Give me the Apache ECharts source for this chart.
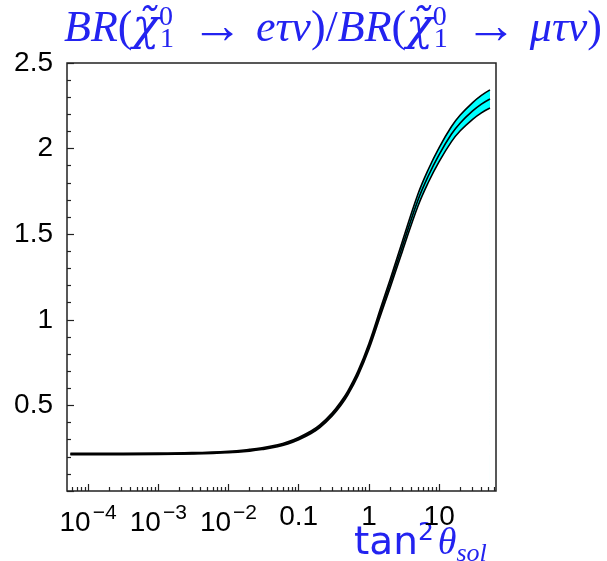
<!DOCTYPE html>
<html>
<head>
<meta charset="utf-8">
<script src="https://cdn.jsdelivr.net/npm/echarts@6/dist/echarts.min.js"></script>
<style>
  html, body { margin: 0; padding: 0; background: #fff; }
  #chart { width: 607px; height: 561px; }
</style>
</head>
<body>
<div id="chart"></div>
<script>
// tan^2(theta_sol) values where the curves were read
var tanSq = [5.6e-5, 1e-4, 1e-3, 3e-3, 0.01, 0.02, 0.03, 0.05, 0.07, 0.1, 0.15, 0.2, 0.3, 0.4, 0.5, 0.7,
             1, 1.5, 2, 3, 5, 7, 10, 15, 20, 30, 40, 53];
// ratio BR(e tau nu)/BR(mu tau nu): central, lower and upper edge of the band
var ratioMid  = [0.216, 0.216, 0.217, 0.220, 0.228, 0.238, 0.247, 0.264, 0.281, 0.306, 0.343, 0.378, 0.448, 0.512, 0.572, 0.688,
                 0.845, 1.060, 1.210, 1.430, 1.700, 1.840, 1.965, 2.085, 2.150, 2.220, 2.260, 2.290];
var ratioLow  = [0.212, 0.212, 0.213, 0.216, 0.2235, 0.233, 0.242, 0.258, 0.2745, 0.299, 0.3355, 0.370, 0.439, 0.501, 0.560, 0.674,
                 0.828, 1.039, 1.186, 1.401, 1.665, 1.802, 1.924, 2.041, 2.104, 2.171, 2.209, 2.237];
var ratioHigh = [0.220, 0.220, 0.221, 0.224, 0.2325, 0.243, 0.252, 0.270, 0.2875, 0.313, 0.3505, 0.386, 0.457, 0.523, 0.584, 0.702,
                 0.862, 1.081, 1.234, 1.459, 1.735, 1.878, 2.006, 2.129, 2.196, 2.269, 2.311, 2.343];
// axis ticks
var xMajor = [-4, -3, -2, -1, 0, 1];   // log10 positions
var yMin = 0, yMax = 2.5, yStep = 0.5;

var chart = echarts.init(document.getElementById('chart'));
var blue = '#2323f0';

var xMinor = [];
for (var e = -5; e <= 1; e++) {
    for (var k = 2; k <= 9; k++) {
        xMinor.push(Math.log10(k) + e);
    }
}

function pairs(xs, ys) {
    var out = [];
    for (var i = 0; i < xs.length; i++) out.push([Math.log10(xs[i]), ys[i]]);
    return out;
}

var lineCommon = {
    type: 'line',
    showSymbol: false,
    smooth: 0.4,
    animation: false
};

function tx(size, family, style, extra) {
    var s = { fontFamily: family, fontStyle: style || 'normal', fontWeight: 'normal', fontSize: size, color: blue, lineHeight: 50 };
    return Object.assign(s, extra || {});
}

var option = {
    backgroundColor: '#ffffff',
    animation: false,
    title: [{
        left: 59,
        top: -1,
        text: '{it|BR}{rm|(}{chi|χ\u0303}{sup|0}{sub|1}{ar| → }{it|eτν}{rm|)/}{it|BR}{rm|(}{chi|χ\u0303}{sup|0}{sub|1}{ar| → }{it|μτν}{rm|)}',
        textStyle: {
            color: blue,
            fontWeight: 'normal',
            rich: {
                it: tx(44, 'Liberation Serif', 'italic'),
                chi: tx(44, 'DejaVu Serif', 'italic'),
                rm: tx(44, 'Liberation Serif'),
                ar: tx(52, 'Liberation Serif'),
                sup: tx(28, 'Liberation Serif', 'normal', { width: 1, verticalAlign: 'top', padding: [0, 0, 24, 0] }),
                sub: tx(28, 'Liberation Serif', 'normal', { width: 18, verticalAlign: 'bottom', padding: [17, 0, 0, 0] })
            }
        }
    }, {
        left: 349,
        top: 516,
        text: '{rm|tan}{sup|2}{it|θ}{sub|sol}',
        textStyle: {
            fontWeight: 'normal',
            rich: {
                rm: tx(39, 'DejaVu Sans', 'normal', { lineHeight: 46 }),
                sup: tx(25, 'DejaVu Sans', 'normal', { lineHeight: 46, verticalAlign: 'top', padding: [0, 4, 10, 0] }),
                it: tx(38, 'Liberation Serif', 'italic', { lineHeight: 46 }),
                sub: tx(26, 'Liberation Serif', 'italic', { lineHeight: 46, verticalAlign: 'bottom', padding: [10, 0, 0, 0] })
            }
        }
    }],
    grid: {
        left: 67,
        right: 111,
        top: 63,
        bottom: 70,
        show: true,
        z: 10,
        borderColor: '#222',
        borderWidth: 1.5,
        outerBoundsMode: 'none'
    },
    xAxis: [{
        type: 'value',
        min: -4.3,
        max: 1.81,
        position: 'bottom',
        z: 10,
        axisLine: { show: false, onZero: false },
        splitLine: { show: false },
        axisTick: { show: true, inside: true, length: 7, customValues: xMajor, lineStyle: { color: '#222', width: 1.2 } },
        axisLabel: {
            customValues: xMajor,
            margin: 12,
            color: '#000',
            fontFamily: 'Liberation Sans',
            fontSize: 28,
            formatter: function (v) {
                if (v === -1) return '0.1';
                if (v === 0) return '1';
                if (v === 1) return '10';
                return '{b|10}{s|−' + (-v) + '}';
            },
            rich: {
                b: { fontFamily: 'Liberation Sans', fontSize: 28, color: '#000', verticalAlign: 'bottom', lineHeight: 34 },
                s: { fontFamily: 'Liberation Sans', fontSize: 21, color: '#000', verticalAlign: 'top', lineHeight: 34, padding: [0, 0, 12, 2] }
            }
        }
    }, {
        type: 'value',
        min: -4.3,
        max: 1.81,
        position: 'bottom',
        z: 10,
        axisLine: { show: false, onZero: false },
        splitLine: { show: false },
        axisLabel: { show: false },
        axisTick: { show: true, inside: true, length: 4, customValues: xMinor, lineStyle: { color: '#222', width: 1.2 } }
    }],
    yAxis: {
        type: 'value',
        min: yMin,
        max: yMax,
        interval: yStep,
        z: 10,
        axisLine: { show: false, onZero: false },
        splitLine: { show: false },
        axisTick: { show: true, inside: true, length: 7, lineStyle: { color: '#222', width: 1.2 } },
        minorTick: { show: true, splitNumber: 5, length: 4, lineStyle: { color: '#222', width: 1.2 } },
        axisLabel: {
            margin: 14,
            color: '#000',
            fontFamily: 'Liberation Sans',
            fontSize: 28,
            formatter: function (v) { return v === 0 ? '' : String(v); }
        }
    },
    series: [
        // cyan band: upper edge filled down, then lower edge filled white on top
        Object.assign({}, lineCommon, {
            name: 'bandUpper',
            data: pairs(tanSq, ratioHigh).slice(1),
            lineStyle: { opacity: 0 },
            areaStyle: { color: '#00ffff', opacity: 1, origin: 'start' }
        }),
        Object.assign({}, lineCommon, {
            name: 'bandLower',
            data: pairs(tanSq, ratioLow),
            lineStyle: { opacity: 0 },
            areaStyle: { color: '#ffffff', opacity: 1, origin: 'start' }
        }),
        Object.assign({}, lineCommon, {
            name: 'upper',
            data: pairs(tanSq, ratioHigh),
            lineStyle: { color: '#000', width: 1.6 }
        }),
        Object.assign({}, lineCommon, {
            name: 'lower',
            data: pairs(tanSq, ratioLow),
            lineStyle: { color: '#000', width: 1.6 }
        }),
        Object.assign({}, lineCommon, {
            name: 'central',
            data: pairs(tanSq, ratioMid),
            lineStyle: { color: '#000', width: 1.6 }
        })
    ]
};

chart.setOption(option);
</script>
</body>
</html>
